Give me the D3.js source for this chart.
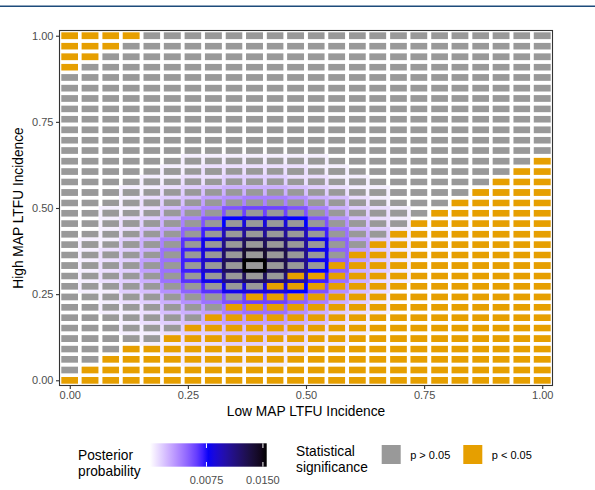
<!DOCTYPE html>
<html>
<head>
<meta charset="utf-8">
<script src="https://cdn.jsdelivr.net/npm/d3@7"></script>
<style>
  body { margin: 0; background: #fff; }
  svg { display: block; font-family: "Liberation Sans", Arial, sans-serif; }
</style>
</head>
<body>
<div id="app"></div>
<script>
// grid positions (seq(0, 1, length = 24) and seq(0, 1, length = 34))
const xValues = [0.000, 0.043, 0.087, 0.130, 0.174, 0.217, 0.261, 0.304, 0.348, 0.391, 0.435, 0.478,
  0.522, 0.565, 0.609, 0.652, 0.696, 0.739, 0.783, 0.826, 0.870, 0.913, 0.957, 1.000];
const yValues = [0.000, 0.030, 0.061, 0.091, 0.121, 0.152, 0.182, 0.212, 0.242, 0.273, 0.303, 0.333,
  0.364, 0.394, 0.424, 0.455, 0.485, 0.515, 0.545, 0.576, 0.606, 0.636, 0.667, 0.697, 0.727, 0.758,
  0.788, 0.818, 0.848, 0.879, 0.909, 0.939, 0.970, 1.000];

// significance per row, top row (y = 1) first; 1 = p < 0.05
const significance = [
  "111100000000000000000000",
  "111000000000000000000000",
  "110000000000000000000000",
  "100000000000000000000000",
  "000000000000000000000000",
  "000000000000000000000000",
  "000000000000000000000000",
  "000000000000000000000000",
  "000000000000000000000000",
  "000000000000000000000000",
  "000000000000000000000000",
  "000000000000000000000000",
  "000000000000000000000001",
  "000000000000000000000011",
  "000000000000000000000111",
  "000000000000000000001111",
  "000000000000000000011111",
  "000000000000000000111111",
  "000000000000000001111111",
  "000000000000000011111111",
  "000000000000000111111111",
  "000000000000001111111111",
  "000000000000011111111111",
  "000000000001111111111111",
  "000000000011111111111111",
  "000000000111111111111111",
  "000000001111111111111111",
  "000000011111111111111111",
  "000000111111111111111111",
  "000001111111111111111111",
  "000111111111111111111111",
  "001111111111111111111111",
  "011111111111111111111111",
  "111111111111111111111111"
];

// posterior probability per row, top row first; each char = index * 0.0005
const postCode = "0123456789abcdefghijklmnopqrstuv";
const postUnit = 0.0005;
const posterior = [
  "000000000000000000000000",
  "000000000000000000000000",
  "000000000000000000000000",
  "000000000000000000000000",
  "000000000000000000000000",
  "000000000000000000000000",
  "000000000000000000000000",
  "000000000000000000000000",
  "000000000000000000000000",
  "000000000000000000000000",
  "000000000000000000000000",
  "000000000000000000000000",
  "000000111111100000000000",
  "000001122222110000000000",
  "000011223332211000000000",
  "000112345554321100000000",
  "000123467887542100000000",
  "00112468bccb853210000000",
  "0012358bfhhfb74210000000",
  "001246aejllje95310000000",
  "011358dgmpolga6310000000",
  "012359ehosqmga6310000000",
  "012369eipvqmfa5310000000",
  "012359dgmpnke95210000000",
  "011347adghhfb74200000000",
  "00123579bcca853100000000",
  "001124568997532100000000",
  "000123456665421000000000",
  "000112334443211000000000",
  "000011223322110000000000",
  "000001111111000000000000",
  "000000111110000000000000",
  "000000000000000000000000",
  "000000000000000000000000"
];

const axisTicks = [0, 0.25, 0.5, 0.75, 1];
const legendTicks = [0.0075, 0.015];
const legendMax = 0.0155;
const sigLabels = ["p > 0.05", "p < 0.05"];
const sigColors = ["#999999", "#E69F00"];

const width = 595;
const height = 490;

const svg = d3.select("#app").append("svg").attr("width", width).attr("height", height);

// header rule
svg.append("rect").attr("x", 0).attr("y", 5.5).attr("width", width).attr("height", 1.5).attr("fill", "#1d4b7b");

const halfX = 0.5 / 23;
const halfY = 0.5 / 33;
const x = d3.scaleLinear().domain([-halfX, 1 + halfX]).range([59.5, 552.5]);
const y = d3.scaleLinear().domain([-halfY, 1 + halfY]).range([385.5, 30.5]);

const color = d3.scaleLinear()
  .domain([0, 0.0075, legendMax])
  .range(["white", "blue", "black"])
  .interpolate(d3.interpolateLab);

const cells = [];
yValues.forEach((yv, j) => {
  const row = yValues.length - 1 - j;
  xValues.forEach((xv, c) => {
    cells.push({
      x: xv,
      y: yv,
      sig: +significance[row][c],
      post: postCode.indexOf(posterior[row][c]) * postUnit
    });
  });
});
// higher posterior drawn later so its border wins
cells.sort((a, b) => a.post - b.post);

svg.append("g")
  .selectAll("rect")
  .data(cells)
  .join("rect")
  .attr("x", (d) => x(d.x - halfX))
  .attr("y", (d) => y(d.y + halfY))
  .attr("width", (d) => x(d.x + halfX) - x(d.x - halfX))
  .attr("height", (d) => y(d.y - halfY) - y(d.y + halfY))
  .attr("fill", (d) => sigColors[d.sig])
  .attr("stroke", (d) => color(d.post))
  .attr("stroke-width", 3.6);

// panel border
svg.append("rect")
  .attr("x", 59.5).attr("y", 30.5)
  .attr("width", 493).attr("height", 355)
  .attr("fill", "none").attr("stroke", "#333").attr("stroke-width", 1.1);

const fmt = d3.format(".2f");
const xAxis = svg.append("g")
  .attr("transform", "translate(0,385.5)")
  .call(d3.axisBottom(x).tickValues(axisTicks).tickFormat(fmt).tickSize(3.5).tickPadding(2.5));
const yAxis = svg.append("g")
  .attr("transform", "translate(59.5,0)")
  .call(d3.axisLeft(y).tickValues(axisTicks).tickFormat(fmt).tickSize(3.5).tickPadding(2.5));
[xAxis, yAxis].forEach((g) => {
  g.select(".domain").remove();
  g.selectAll(".tick line").attr("stroke", "#333").attr("stroke-width", 1.1);
  g.selectAll(".tick text").attr("fill", "#4d4d4d").style("font-size", "11px")
    .style("font-family", "'Liberation Sans', Arial, sans-serif");
});

svg.append("text")
  .text("Low MAP LTFU Incidence")
  .attr("x", 306).attr("y", 416)
  .attr("text-anchor", "middle")
  .style("font-size", "13.75px");

svg.append("text")
  .text("High MAP LTFU Incidence")
  .attr("transform", "translate(23,208) rotate(-90)")
  .attr("text-anchor", "middle")
  .style("font-size", "13.75px");

// colour bar legend
svg.append("text").attr("x", 78).attr("y", 460).text("Posterior").style("font-size", "13.75px");
svg.append("text").attr("x", 78).attr("y", 476).text("probability").style("font-size", "13.75px");

const barX = d3.scaleLinear().domain([0, legendMax]).range([150, 266.7]);
const grad = svg.append("defs").append("linearGradient").attr("id", "postGrad");
d3.range(0, 1.0001, 0.05).forEach((t) => {
  grad.append("stop").attr("offset", t).attr("stop-color", color(t * legendMax));
});
svg.append("rect")
  .attr("x", barX(0)).attr("y", 443.3)
  .attr("width", barX(legendMax) - barX(0)).attr("height", 23.4)
  .attr("fill", "url(#postGrad)");
legendTicks.forEach((v) => {
  const px = barX(v);
  svg.append("line").attr("x1", px).attr("x2", px).attr("y1", 443.3).attr("y2", 448)
    .attr("stroke", "white").attr("stroke-width", 1);
  svg.append("line").attr("x1", px).attr("x2", px).attr("y1", 462).attr("y2", 466.7)
    .attr("stroke", "white").attr("stroke-width", 1);
  svg.append("text").attr("x", px).attr("y", 484).attr("text-anchor", "middle")
    .attr("fill", "#4d4d4d").style("font-size", "11px").text(d3.format(".4f")(v));
});

// significance legend
svg.append("text").attr("x", 296).attr("y", 455.5).text("Statistical").style("font-size", "13.75px");
svg.append("text").attr("x", 296).attr("y", 471.5).text("significance").style("font-size", "13.75px");

const keyX = [381.7, 463.3];
sigLabels.forEach((lab, i) => {
  svg.append("rect").attr("x", keyX[i]).attr("y", 445).attr("width", 19).attr("height", 19)
    .attr("fill", sigColors[i]);
  svg.append("text").attr("x", keyX[i] + 28.5).attr("y", 458.5)
    .style("font-size", "11px").text(lab);
});
</script>
</body>
</html>
